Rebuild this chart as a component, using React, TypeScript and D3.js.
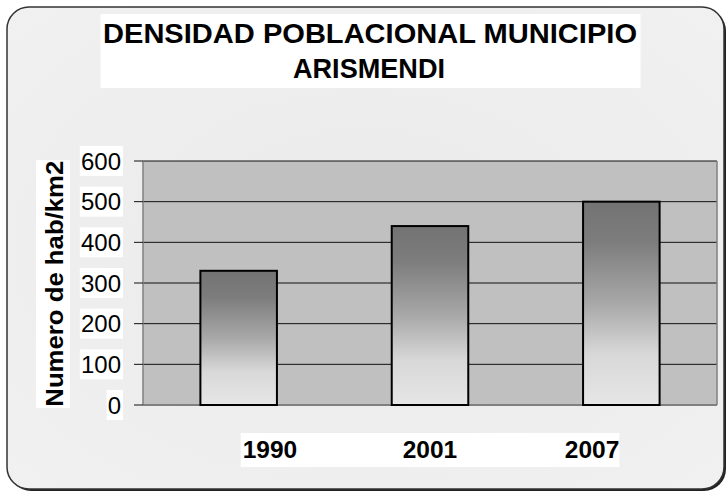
import React from "react";
import * as d3 from "d3";

const categories = ["1990", "2001", "2007"];
const values = [330, 440, 500];
const yTicks = [0, 100, 200, 300, 400, 500, 600];
const titleLines = ["DENSIDAD POBLACIONAL MUNICIPIO", "ARISMENDI"];
const yAxisTitle = "Numero de hab/km2";

const W = 728;
const H = 492;
const plot = { left: 143, right: 717, top: 161, bottom: 405 };

export default function App() {
  const x = d3
    .scaleBand<string>()
    .domain(categories)
    .range([plot.left, plot.right])
    .paddingInner(0.6)
    .paddingOuter(0.3);
  const y = d3.scaleLinear().domain([0, 600]).range([plot.bottom, plot.top]);
  const font = "'Liberation Sans', Arial, sans-serif";
  const cx = (c: string) => (x(c) as number) + x.bandwidth() / 2;
  const labLeft = cx(categories[0]) + 4;
  const labRight = cx(categories[categories.length - 1]) - 2;

  return (
    <svg
      width={W}
      height={H}
      style={{ position: "absolute", left: 0, top: 0, display: "block" }}
      fontFamily={font}
    >
      <defs>
        <linearGradient id="barGrad" x1="0" y1="0" x2="0" y2="1">
          <stop offset="0%" stopColor="#737373" />
          <stop offset="20%" stopColor="#7d7d7d" />
          <stop offset="50%" stopColor="#a8a8a8" />
          <stop offset="75%" stopColor="#d8d8d8" />
          <stop offset="100%" stopColor="#e6e6e6" />
        </linearGradient>
        <radialGradient id="bgGrad" cx="0.5" cy="0.5" r="0.75">
          <stop offset="0%" stopColor="#eaeaea" />
          <stop offset="100%" stopColor="#f1f1f1" />
        </radialGradient>
      </defs>
      <rect x={0} y={0} width={W} height={H} fill="#ffffff" />
      <rect x={9} y={9} width={717} height={482} rx={22} fill="#222" />
      <rect x={7} y={7} width={717} height={482} rx={22} fill="url(#bgGrad)" stroke="#333" strokeWidth={1.5} />

      {/* Title */}
      <rect x={100.5} y={14} width={540} height={74} fill="#ffffff" />
      <text x={370} y={43.3} textAnchor="middle" fontWeight="bold" fontSize={28.5} textLength={534} lengthAdjust="spacingAndGlyphs">
        {titleLines[0]}
      </text>
      <text x={369} y={78.3} textAnchor="middle" fontWeight="bold" fontSize={28.5} textLength={152} lengthAdjust="spacingAndGlyphs">
        {titleLines[1]}
      </text>

      {/* Plot area */}
      <rect x={plot.left} y={plot.top} width={plot.right - plot.left} height={plot.bottom - plot.top} fill="#c0c0c0" />
      {yTicks.map((t) => (
        <line key={"g" + t} x1={plot.left} x2={plot.right} y1={y(t)} y2={y(t)} stroke="#111" strokeWidth={1} />
      ))}
      <line x1={plot.right} x2={plot.right} y1={plot.top} y2={plot.bottom} stroke="#808080" strokeWidth={1.5} />
      <line x1={plot.left} x2={plot.right} y1={plot.bottom} y2={plot.bottom} stroke="#808080" strokeWidth={2} />
      <line x1={plot.left} x2={plot.left} y1={plot.top} y2={plot.bottom} stroke="#808080" strokeWidth={1.5} />
      {yTicks.map((t) => (
        <line key={"t" + t} x1={134} x2={plot.left} y1={y(t)} y2={y(t)} stroke="#111" strokeWidth={1} />
      ))}

      {/* Bars */}
      {categories.map((c, i) => (
        <rect
          key={c}
          x={x(c)}
          y={y(values[i])}
          width={x.bandwidth()}
          height={y(0) - y(values[i])}
          fill="url(#barGrad)"
          stroke="#000"
          strokeWidth={2}
        />
      ))}

      {/* Y tick labels */}
      {yTicks.map((t) => {
        const w = String(t).length * 13.4 + 3;
        return (
          <g key={"l" + t}>
            <rect x={123 - w} y={y(t) - 15} width={w} height={30} fill="#ffffff" />
            <text x={121} y={y(t) + 8.5} textAnchor="end" fontSize={24}>
              {t}
            </text>
          </g>
        );
      })}

      {/* Y axis title */}
      <rect x={36} y={160} width={34} height={248} fill="#ffffff" />
      <text
        transform={`translate(62.5, ${(160.7 + 406.7) / 2}) rotate(-90)`}
        textAnchor="middle"
        fontWeight="bold"
        fontSize={24}
        textLength={246}
        lengthAdjust="spacingAndGlyphs"
      >
        {yAxisTitle}
      </text>

      {/* X labels */}
      <rect x={labLeft - 2} y={433} width={labRight - labLeft + 2} height={34} fill="#ffffff" />
      {categories.map((c, i) => {
        const anchor = i === 0 ? "start" : i === categories.length - 1 ? "end" : "middle";
        const px = i === 0 ? labLeft : i === categories.length - 1 ? labRight : cx(c);
        return (
          <text key={"x" + c} x={px} y={458} textAnchor={anchor} fontWeight="bold" fontSize={24.5}>
            {c}
          </text>
        );
      })}
    </svg>
  );
}
